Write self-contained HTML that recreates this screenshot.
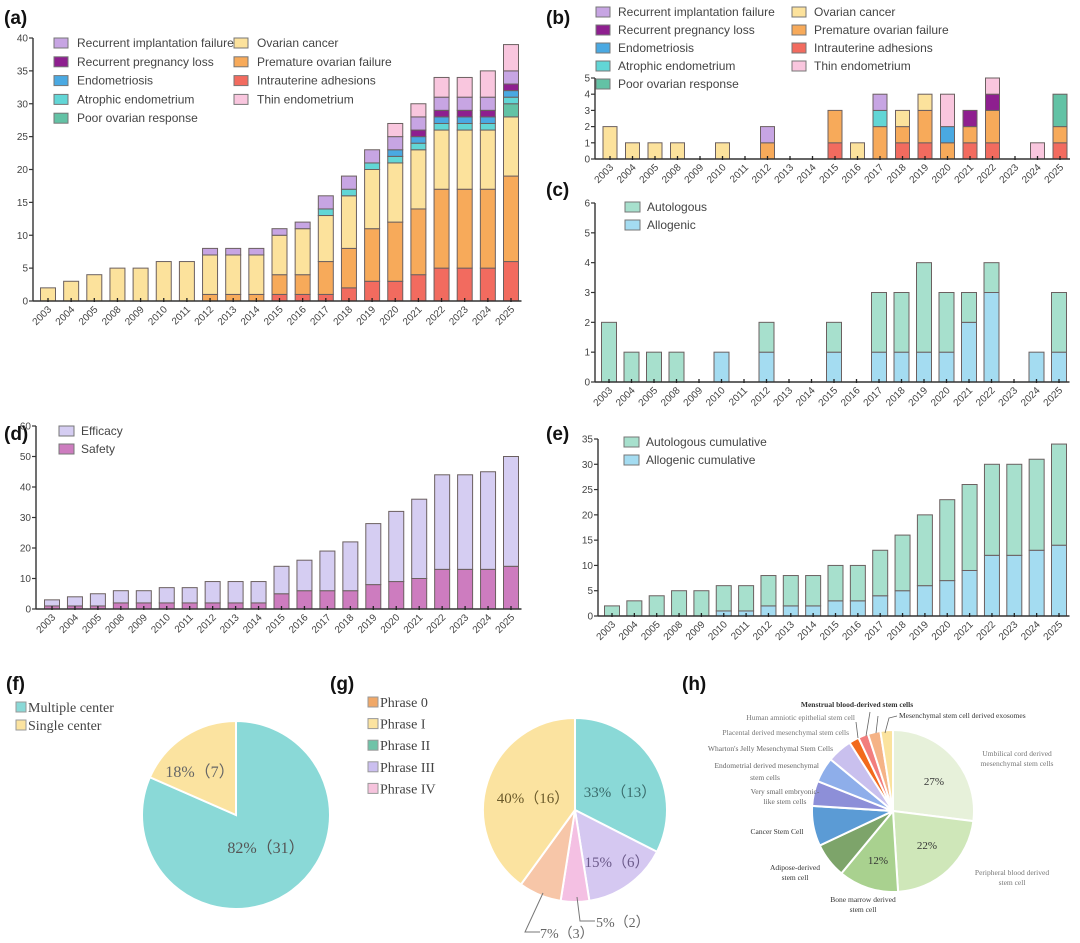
<!DOCTYPE html>
<html><head><meta charset="utf-8"><style>
html,body{margin:0;padding:0;background:#fff;}
svg{display:block;font-family:"Liberation Sans",sans-serif;}
.pl{font-size:19px;font-weight:bold;fill:#111;}
.tk{font-size:10px;fill:#444;}
.lg{font-size:12px;fill:#444;}
.sr{font-family:"Liberation Serif",serif;}
</style></head><body>
<svg id="fig" width="1080" height="943" viewBox="0 0 1080 943" xmlns="http://www.w3.org/2000/svg">
<text class="pl" x="4" y="24">(a)</text>
<text class="pl" x="546" y="24">(b)</text>
<text class="pl" x="546" y="196">(c)</text>
<text class="pl" x="4" y="440">(d)</text>
<text class="pl" x="546" y="440">(e)</text>
<text class="pl" x="6" y="690">(f)</text>
<text class="pl" x="330" y="690">(g)</text>
<text class="pl" x="682" y="690">(h)</text>
</svg>
<script>
const years = ["2003","2004","2005","2008","2009","2010","2011","2012","2013","2014","2015","2016","2017","2018","2019","2020","2021","2022","2023","2024","2025"];
// panel a (cumulative) series, bottom to top
const aIA   = [0,0,0,0,0,0,0,0,0,0,1,1,1,2,3,3,4,5,5,5,6];
const aPOF  = [0,0,0,0,0,0,0,1,1,1,3,3,5,6,8,9,10,12,12,12,13];
const aOC   = [2,3,4,5,5,6,6,6,6,6,6,7,7,8,9,9,9,9,9,9,9];
const aPOR  = [0,0,0,0,0,0,0,0,0,0,0,0,0,0,0,0,0,0,0,0,2];
const aATR  = [0,0,0,0,0,0,0,0,0,0,0,0,1,1,1,1,1,1,1,1,1];
const aEND  = [0,0,0,0,0,0,0,0,0,0,0,0,0,0,0,1,1,1,1,1,1];
const aRPL  = [0,0,0,0,0,0,0,0,0,0,0,0,0,0,0,0,1,1,1,1,1];
const aRIF  = [0,0,0,0,0,0,0,1,1,1,1,1,2,2,2,2,2,2,2,2,2];
const aTHIN = [0,0,0,0,0,0,0,0,0,0,0,0,0,0,0,2,2,3,3,4,4];
// panel b (per year)
const bIA   = [0,0,0,0,0,0,0,0,0,0,1,0,0,1,1,0,1,1,0,0,1];
const bPOF  = [0,0,0,0,0,0,0,1,0,0,2,0,2,1,2,1,1,2,0,0,1];
const bOC   = [2,1,1,1,0,1,0,0,0,0,0,1,0,1,1,0,0,0,0,0,0];
const bPOR  = [0,0,0,0,0,0,0,0,0,0,0,0,0,0,0,0,0,0,0,0,2];
const bATR  = [0,0,0,0,0,0,0,0,0,0,0,0,1,0,0,0,0,0,0,0,0];
const bEND  = [0,0,0,0,0,0,0,0,0,0,0,0,0,0,0,1,0,0,0,0,0];
const bRPL  = [0,0,0,0,0,0,0,0,0,0,0,0,0,0,0,0,1,1,0,0,0];
const bRIF  = [0,0,0,0,0,0,0,1,0,0,0,0,1,0,0,0,0,0,0,0,0];
const bTHIN = [0,0,0,0,0,0,0,0,0,0,0,0,0,0,0,2,0,1,0,1,0];
// panel c
const cAllo = [0,0,0,0,0,1,0,1,0,0,1,0,1,1,1,1,2,3,0,1,1];
const cAuto = [2,1,1,1,0,0,0,1,0,0,1,0,2,2,3,2,1,1,0,0,2];
// panel d
const dSafety   = [1,1,1,2,2,2,2,2,2,2,5,6,6,6,8,9,10,13,13,13,14];
const dEfficacy = [2,3,4,4,4,5,5,7,7,7,9,10,13,16,20,23,26,31,31,32,36];
// panel e
const eAllo = [0,0,0,0,0,1,1,2,2,2,3,3,4,5,6,7,9,12,12,13,14];
const eAuto = [2,3,4,5,5,5,5,6,6,6,7,7,9,11,14,16,17,18,18,18,20];
// pies
const fLabels = ["Multiple center","Single center"];
const fValues = [31,7];
const gLabels = ["Phrase II","Phrase III","Phrase IV","Phrase 0","Phrase I"];
const gValues = [13,6,2,3,16];
const hLabels = ["Umbilical cord","Peripheral blood","Bone marrow","Adipose","Cancer","VSEL","Endometrial","Wharton","Placental","Amniotic","Menstrual","Exosomes"];
const hValues = [27,22,12,7,8,5,5,5,2,2,2.5,2.5];

const NS="http://www.w3.org/2000/svg";
const svg=document.getElementById('fig');
function mk(tag,attrs,parent){const e=document.createElementNS(NS,tag);for(const k in attrs)e.setAttribute(k,attrs[k]);(parent||svg).appendChild(e);return e;}

const C={IA:"#f26b5f",POF:"#f7aa5a",OC:"#fce29c",POR:"#63c2a5",ATR:"#62d6d6",END:"#4aa9e2",RPL:"#8e1f8f",RIF:"#c7a5e3",THIN:"#f9c6de",AUTO:"#a7e0cd",ALLO:"#a4dcf1",EFF:"#d5cdf2",SAF:"#cd7cbf"};

function chart(name,g,series,colors,snames){
  const grp=mk('g',{});
  
  
  const n=years.length;
  const xs=i=>g.xFirst+(g.xLast-g.xFirst)*i/(n-1);
  const ys=v=>g.y0-(g.y0-g.yTop)*v/g.max;
  // y axis
  const ya=mk('line',{x1:g.ax,y1:ys(g.max),x2:g.ax,y2:g.y0,stroke:"#333","stroke-width":1.4},grp);
  
  
  for(let v=0;v<=g.max;v+=g.step){
    mk('line',{x1:g.ax-4,y1:ys(v),x2:g.ax,y2:ys(v),stroke:"#333","stroke-width":1.2},grp);
    const t=mk('text',{x:g.ax-5,y:ys(v)+3.5,"text-anchor":"end",class:"tk"},grp);
    t.textContent=v;
    
    
  }
  // bars
  for(let i=0;i<n;i++){
    let base=0;
    for(let s=0;s<series.length;s++){
      const v=series[s][i];
      if(v<=0)continue;
      const r=mk('rect',{x:xs(i)-g.bw/2,y:ys(base+v),width:g.bw,height:ys(base)-ys(base+v),fill:colors[s],stroke:"#6b6060","stroke-width":1},grp);
      
      
      base+=v;
    }
  }
  const xa=mk('line',{x1:g.ax,y1:g.y0,x2:g.xLast+g.bw/2+3,y2:g.y0,stroke:"#333","stroke-width":1.4},grp);
  
  
  for(let i=0;i<n;i++){
    mk('line',{x1:xs(i),y1:g.y0-3,x2:xs(i),y2:g.y0+1,stroke:"#222","stroke-width":1.3},grp);
    const t=mk('text',{x:xs(i)+4,y:g.y0+9,"text-anchor":"end",class:"tk",transform:`rotate(-45 ${xs(i)+4} ${g.y0+9})`},grp);
    t.textContent=years[i];
    
    
  }
}
function legend(name,items,x,y,dy,cls,sw,sh,gap){
  const grp=mk('g',{});
  
  
  items.forEach((it,k)=>{
    const yy=y+k*dy;
    mk('rect',{x:x,y:yy-sh/2,width:sw,height:sh,fill:it[1],stroke:"#777","stroke-width":1},grp);
    const t=mk('text',{x:x+sw+gap,y:yy+4,class:cls},grp);
    t.textContent=it[0];
    
    
  });
}

chart('chart-a',{ax:33,xFirst:48,xLast:511,y0:301,yTop:38,max:40,step:5,bw:15},
  [aIA,aPOF,aOC,aPOR,aATR,aEND,aRPL,aRIF,aTHIN],[C.IA,C.POF,C.OC,C.POR,C.ATR,C.END,C.RPL,C.RIF,C.THIN],
  ["ia","pof","oc","por","atr","endo","rpl","rif","thin"]);
legend('legend-a-col1',[["Recurrent implantation failure",C.RIF],["Recurrent pregnancy loss",C.RPL],["Endometriosis",C.END],["Atrophic endometrium",C.ATR],["Poor ovarian response",C.POR]],54,43,18.8,'lg',14,10,9);
legend('legend-a-col2',[["Ovarian cancer",C.OC],["Premature ovarian failure",C.POF],["Intrauterine adhesions",C.IA],["Thin endometrium",C.THIN]],234,43,18.8,'lg',14,10,9);

chart('chart-b',{ax:595,xFirst:610,xLast:1060,y0:159,yTop:78,max:5,step:1,bw:14},
  [bIA,bPOF,bOC,bPOR,bATR,bEND,bRPL,bRIF,bTHIN],[C.IA,C.POF,C.OC,C.POR,C.ATR,C.END,C.RPL,C.RIF,C.THIN],
  ["ia","pof","oc","por","atr","endo","rpl","rif","thin"]);
legend('legend-b-col1',[["Recurrent implantation failure",C.RIF],["Recurrent pregnancy loss",C.RPL],["Endometriosis",C.END],["Atrophic endometrium",C.ATR],["Poor ovarian response",C.POR]],596,12,18,'lg',14,10,8);
legend('legend-b-col2',[["Ovarian cancer",C.OC],["Premature ovarian failure",C.POF],["Intrauterine adhesions",C.IA],["Thin endometrium",C.THIN]],792,12,18,'lg',14,10,8);

chart('chart-c',{ax:595,xFirst:609,xLast:1059,y0:382,yTop:203,max:6,step:1,bw:15},
  [cAllo,cAuto],[C.ALLO,C.AUTO],["allogenic","autologous"]);
legend('legend-c',[["Autologous",C.AUTO],["Allogenic",C.ALLO]],625,207,18,'lg',15,10,7);

chart('chart-d',{ax:36,xFirst:52,xLast:511,y0:609,yTop:426,max:60,step:10,bw:15},
  [dSafety,dEfficacy],[C.SAF,C.EFF],["safety","efficacy"]);
legend('legend-d',[["Efficacy",C.EFF],["Safety",C.SAF]],59,431,18,'lg',15,10,7);

chart('chart-e',{ax:598,xFirst:612,xLast:1059,y0:616,yTop:439,max:35,step:5,bw:15},
  [eAllo,eAuto],[C.ALLO,C.AUTO],["allogenic-cumulative","autologous-cumulative"]);
legend('legend-e',[["Autologous cumulative",C.AUTO],["Allogenic cumulative",C.ALLO]],624,442,18,'lg',15,10,7);

function pie(name,cx,cy,r,vals,cols,names){
  const grp=mk('g',{});
  
  
  const tot=vals.reduce((a,b)=>a+b,0);
  let a0=-Math.PI/2;
  vals.forEach((v,i)=>{
    const a1=a0+2*Math.PI*v/tot;
    const large=(a1-a0)>Math.PI?1:0;
    const p=mk('path',{d:`M${cx},${cy} L${cx+r*Math.cos(a0)},${cy+r*Math.sin(a0)} A${r},${r} 0 ${large} 1 ${cx+r*Math.cos(a1)},${cy+r*Math.sin(a1)} Z`,fill:cols[i],stroke:"#fff","stroke-width":2},grp);
    
    
    a0=a1;
  });
}
function txt(name,s,x,y,size,anchor,fill,weight){
  const t=mk('text',{x:x,y:y,"font-size":size,"text-anchor":anchor||"middle",fill:fill||"#555",class:"sr","font-weight":weight||"normal"});
  t.textContent=s;
  
  
  return t;
}

// f
pie('pie-f',236,815,94,fValues,["#8ad9d7","#fbe3a0"],["multiple-center","single-center"]);
txt('label-single','18%（7）',200,777,16,'middle','#666');
txt('label-multiple','82%（31）',266,853,16,'middle','#555');
(function(){const items=[["Multiple center","#8ad9d7"],["Single center","#fbe3a0"]];
 items.forEach((it,k)=>{mk('rect',{x:16,y:702+k*18,width:10,height:10,fill:it[1],stroke:"#999"});
 txt('legend-entry-f',it[0],28,712+k*18,14,'start','#444');});})();

// g
pie('pie-g',575,810,92,gValues,["#8ad9d7","#d5c8f1","#f4c0e3","#f7c6a8","#fbe3a0"],["phrase-ii","phrase-iii","phrase-iv","phrase-0","phrase-i"]);
txt('label-phrase-ii','33%（13）',620,797,15,'middle','#3a6b6b');
txt('label-phrase-i','40%（16）',533,803,15,'middle','#6b5a2a');
txt('label-phrase-iii','15%（6）',617,867,15,'middle','#6b5a8a');
mk('polyline',{points:"577,897 580,921 595,921",fill:"none",stroke:"#777","stroke-width":1});
txt('label-phrase-iv','5%（2）',596,927,14,'start','#666');
mk('polyline',{points:"543,893 525,932 540,932",fill:"none",stroke:"#777","stroke-width":1});
txt('label-phrase-0','7%（3）',540,938,14,'start','#666');
(function(){const items=[["Phrase 0","#f0a868"],["Phrase I","#fbe3a0"],["Phrase II","#6fc3a8"],["Phrase III","#cbbff0"],["Phrase IV","#f6c3dd"]];
 items.forEach((it,k)=>{mk('rect',{x:368,y:697+k*21.6,width:10,height:10,fill:it[1],stroke:"#999"});
 txt('legend-entry-g',it[0],380,707+k*21.6,14,'start','#444');});})();

// h
pie('pie-h',893,811,81,hValues,["#e7f1da","#cfe7b9","#a9d18f","#7da46a","#5b9bd5","#8d8fd8","#8eaeea","#c9c0ee","#f26a1c","#f27e7e","#f5b386","#fbe39e"],
  ["umbilical","peripheral","bone-marrow","adipose","cancer","vsel","endometrial","wharton","placental","amniotic","menstrual","exosomes"]);
txt('pct-27','27%',934,785,11,'middle','#333');
txt('pct-22','22%',927,849,11,'middle','#333');
txt('pct-12','12%',878,864,11,'middle','#333');
txt('h-label','Menstrual blood-derived stem cells',857,707,7.5,'middle','#333','bold');
txt('h-label','Human amniotic epithelial stem cell',855,720,7.5,'end','#777');
txt('h-label','Mesenchymal stem cell derived exosomes',899,718,7.5,'start','#333');
txt('h-label','Placental derived mesenchymal stem cells',849,735,7.5,'end','#777');
txt('h-label',"Wharton's Jelly Mesenchymal Stem Cells",833,751,7.5,'end','#666');
txt('h-label','Endometrial derived mesenchymal',819,768,7.5,'end','#666');
txt('h-label','stem cells',765,780,7.5,'middle','#666');
txt('h-label','Very small embryonic-',785,794,7.5,'middle','#666');
txt('h-label','like stem cells',785,804,7.5,'middle','#666');
txt('h-label','Cancer Stem Cell',777,834,7.5,'middle','#333');
txt('h-label','Adipose-derived',795,870,7.5,'middle','#333');
txt('h-label','stem cell',795,880,7.5,'middle','#333');
txt('h-label','Bone marrow derived',863,902,7.5,'middle','#333');
txt('h-label','stem cell',863,912,7.5,'middle','#333');
txt('h-label','Peripheral blood derived',1012,875,7.5,'middle','#777');
txt('h-label','stem cell',1012,885,7.5,'middle','#777');
txt('h-label','Umbilical cord derived',1017,756,7.5,'middle','#777');
txt('h-label','mesenchymal stem cells',1017,766,7.5,'middle','#777');
mk('polyline',{points:"866,736 870,712",fill:"none",stroke:"#666","stroke-width":0.8});
mk('polyline',{points:"876,733 878,716",fill:"none",stroke:"#666","stroke-width":0.8});
mk('polyline',{points:"885,733 889,718 897,716",fill:"none",stroke:"#666","stroke-width":0.8});
mk('polyline',{points:"858,738 856,722",fill:"none",stroke:"#666","stroke-width":0.8});
</script>
</body></html>
